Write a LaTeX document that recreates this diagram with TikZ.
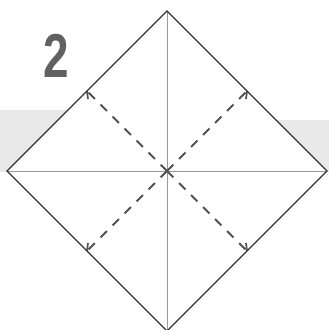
\documentclass[tikz,border=0pt]{standalone}
\usepackage{fontspec}
\setmainfont{Liberation Sans}
\usetikzlibrary{calc}
\begin{document}
\begin{tikzpicture}[x=1pt,y=-1pt,
  edge/.style={draw=black!80,line width=1.1pt},
  crease/.style={draw=black!40,line width=0.9pt},
  valley/.style={draw=black!68,line width=2pt,dash pattern=on 9pt off 8pt},
  tick/.style={draw=black!68,line width=1.7pt},
  band/.style={fill=black!9,draw=none}]
\useasboundingbox (0,0) rectangle (329,330);
% background band
\fill[band] (0,110) rectangle (90,172);
\fill[band] (250,120) rectangle (329,172);
% diamond
\coordinate (c) at (167,171);
\coordinate (t) at (167,11);
\coordinate (r) at (327,171);
\coordinate (b) at (167,331);
\coordinate (l) at (7,171);
\fill[white] (t) -- (r) -- (b) -- (l) -- cycle;
\draw[crease] (t) -- (b);
\draw[crease] (l) -- (r);
\coordinate (m1) at ($(t)!0.5!(l)$);
\coordinate (m2) at ($(t)!0.5!(r)$);
\coordinate (m3) at ($(b)!0.5!(l)$);
\coordinate (m4) at ($(b)!0.5!(r)$);
\draw[valley] (c) -- (m1);
\draw[valley] (c) -- (m2);
\draw[valley] (c) -- (m3);
\draw[valley] (c) -- (m4);
\draw[tick] (m1) -- ++(1,8);
\draw[tick] (m2) -- ++(-1,8);
\draw[tick] (m3) -- ++(1,-8);
\draw[tick] (m4) -- ++(-1,-8);
\draw[edge,line join=miter] (t) -- (r) -- (b) -- (l) -- cycle;
% step number
\node[text=black!62,font=\fontsize{62}{62}\selectfont\bfseries,inner sep=0pt] (num) at (56.5,56) {\scalebox{0.74}[1]{2}};
\end{tikzpicture}
\end{document}
